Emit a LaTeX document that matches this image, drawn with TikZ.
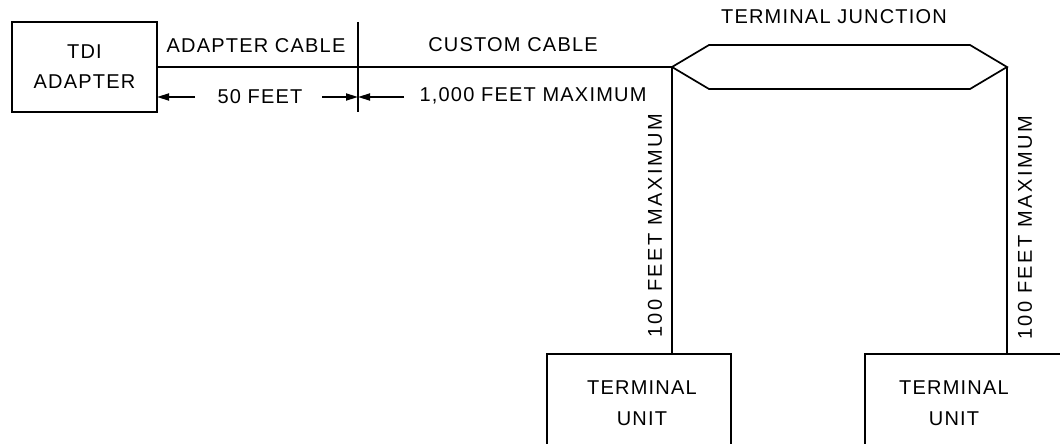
\documentclass[tikz,border=0pt]{standalone}
\usepackage{fontspec}
\setmainfont{Liberation Sans}[LetterSpace=6]
\usetikzlibrary{arrows.meta}
\begin{document}
\begin{tikzpicture}[x=1pt,y=-1pt,
  line width=1.7pt,
  lbl/.style={font=\fontsize{20}{30}\selectfont, inner sep=0pt},
  vlbl/.style={font=\fontsize{20}{30}\selectfont\addfontfeature{LetterSpace=12}, inner sep=0pt, rotate=90},
  box/.style={draw, line width=1.7pt, minimum width=145pt, minimum height=90pt, inner sep=0pt,
    align=center, font=\fontsize{20}{30}\selectfont},
  tu/.style={inner sep=0pt, align=center, font=\fontsize{20}{31}\selectfont},
  dimarrow/.style={-{Triangle[length=12pt,width=7pt]}, line width=1.7pt}]
\useasboundingbox (0,0) rectangle (1060,444);
% TDI adapter
\node[box] (tdi) at (84.5,67) {TDI\\ADAPTER};
% divider
\coordinate (divT) at (358,22);
\coordinate (divB) at (358,112);
\draw (divT) -- (divB);
% junction
\coordinate (jl) at (672,67);
\coordinate (jtl) at (709,45);
\coordinate (jtr) at (970,45);
\coordinate (jr) at (1007,67);
\coordinate (jbr) at (970,89);
\coordinate (jbl) at (709,89);
\draw[line join=miter] (jl) -- (jtl) -- (jtr) -- (jr) -- (jbr) -- (jbl) -- cycle;
% cable
\draw (tdi.east) -- (jl);
% labels
\node[lbl] (adc) at (256,46) {ADAPTER CABLE};
\node[lbl] (cc) at (513,45) {CUSTOM CABLE};
\node[lbl] (tj) at (834,17) {TERMINAL JUNCTION};
\node[lbl] (fifty) at (260,97) {50 FEET};
\node[lbl] (thou) at (533,96) {1,000 FEET MAXIMUM};
\coordinate (a1) at (157,97);
\coordinate (a2) at (358,97);
\coordinate (s1) at (195,97);
\coordinate (s2) at (322,97);
\coordinate (s3) at (404,97);
\draw[dimarrow] (s1) -- (a1);
\draw[dimarrow] (s2) -- (a2);
\draw[dimarrow] (s3) -- (a2);
% terminal units
\node[tu] (tu1) at (642,403) {TERMINAL\\UNIT};
\node[tu] (tu2) at (954,403) {TERMINAL\\UNIT};
\coordinate (tu1t) at (672,354);
\coordinate (tu2t) at (1007,354);
\draw (547,446) -- (547,354) -- (731,354) -- (731,446);
\draw (865,446) -- (865,354) -- (1062,354);
\draw (jl) -- (tu1t);
\draw (jr) -- (tu2t);
\node[vlbl] (v1) at (655,226) {100 FEET MAXIMUM};
\node[vlbl] (v2) at (1025,228) {100 FEET MAXIMUM};
\end{tikzpicture}
\end{document}
